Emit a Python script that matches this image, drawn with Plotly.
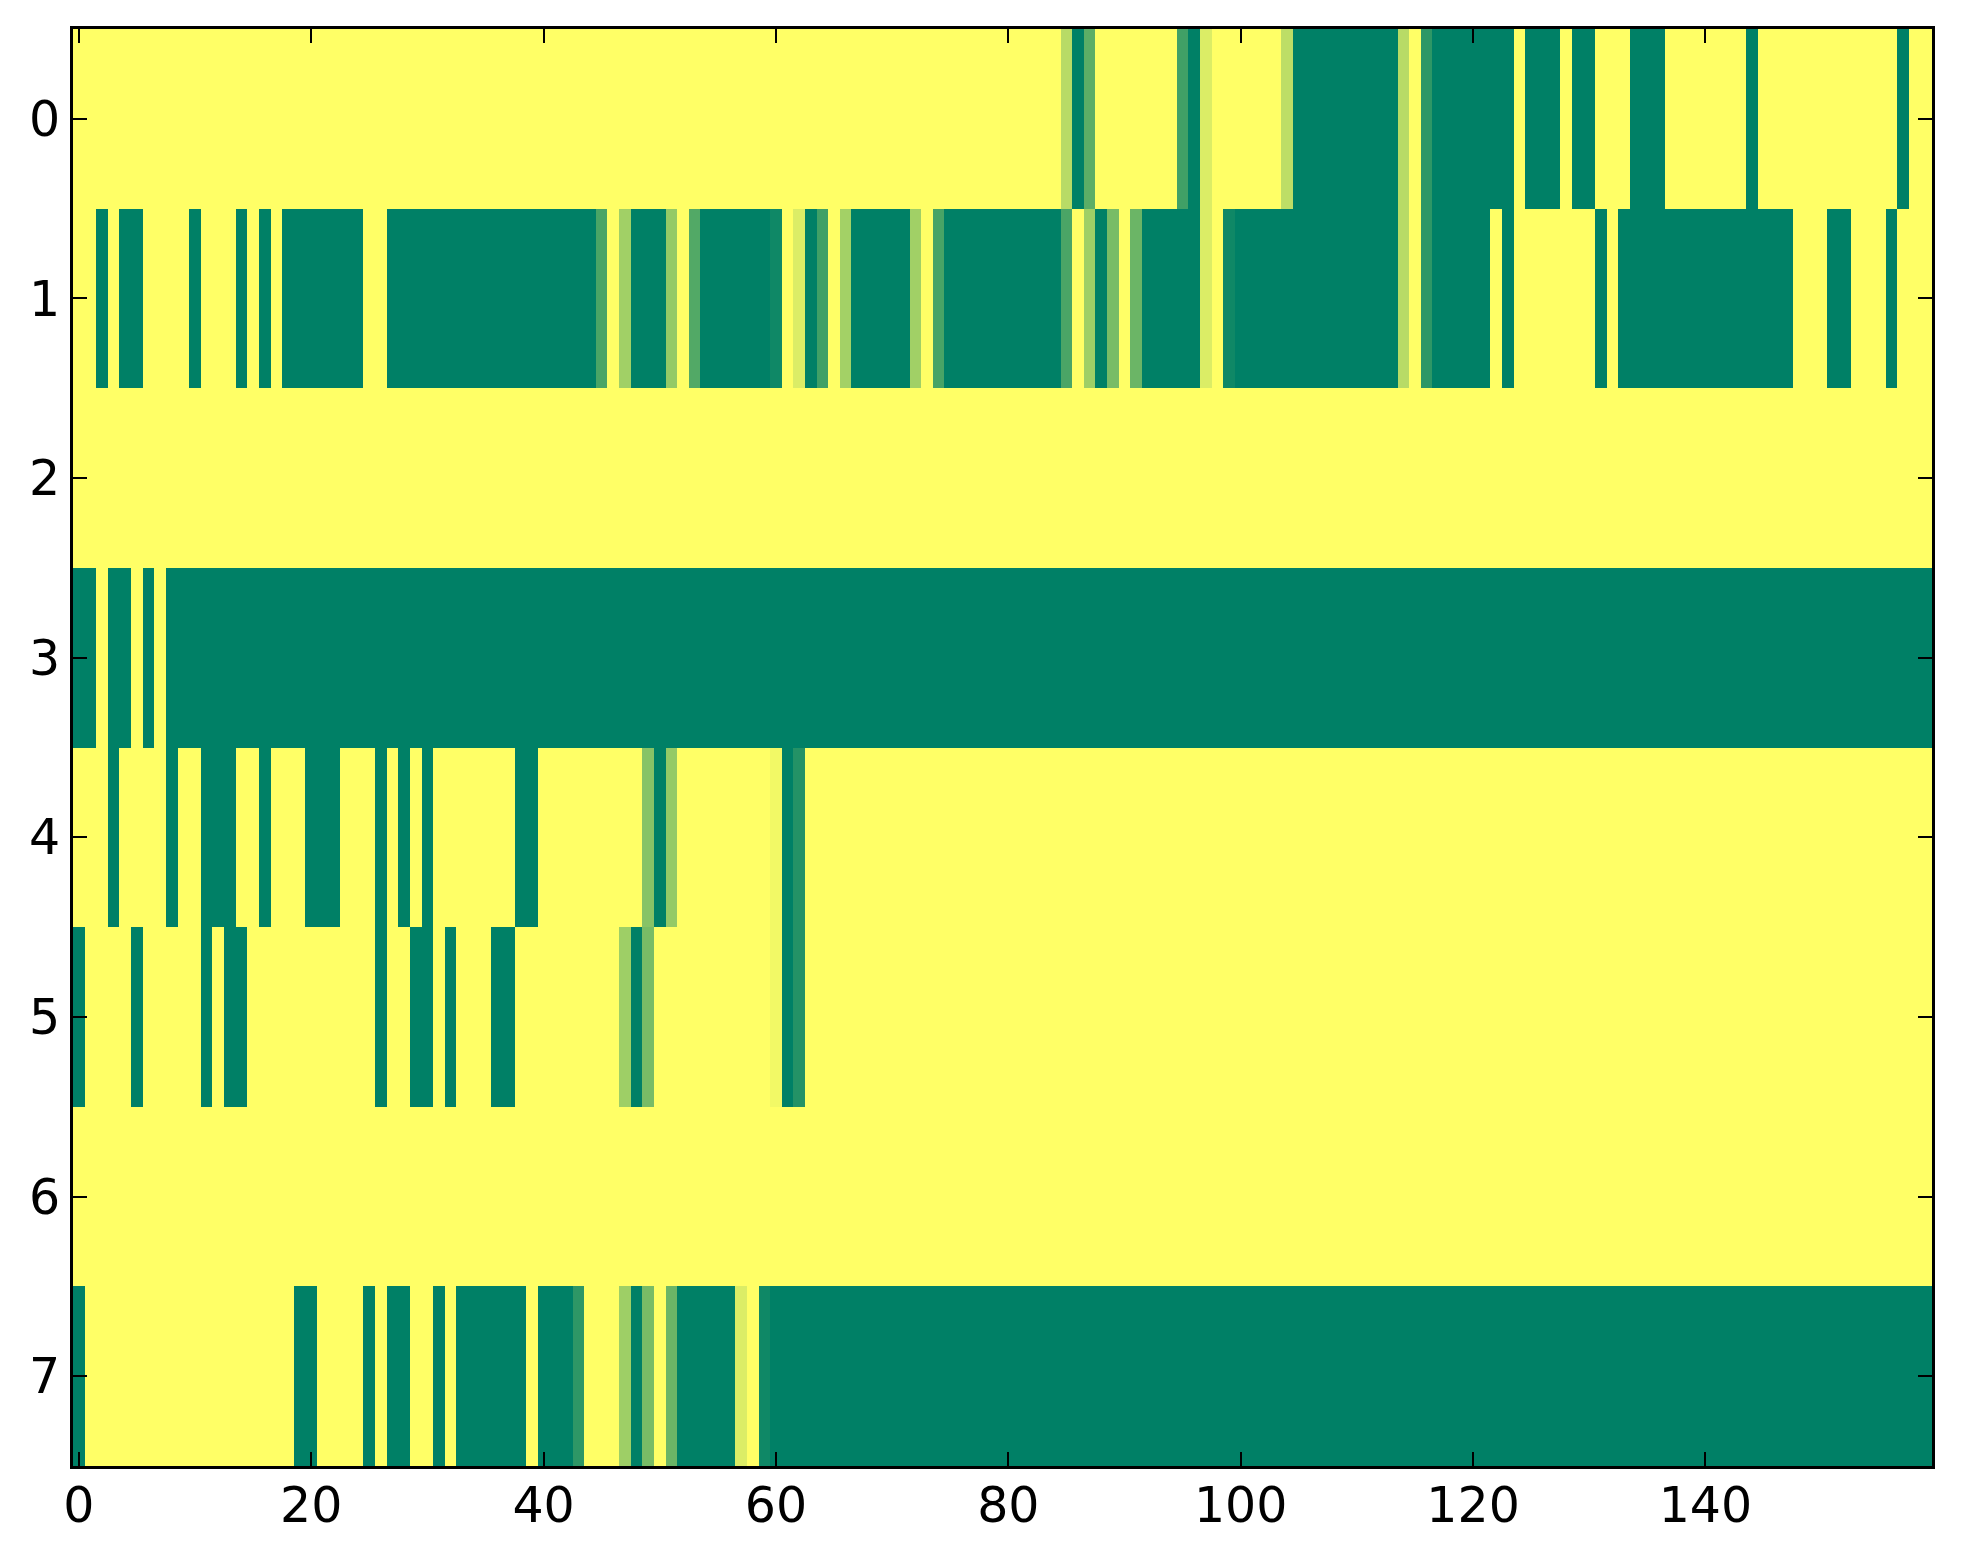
import plotly.graph_objects as go

# Heatmap values, one list per row (0 = yellow, 1 = green in summer_r)
row_0 = [
    0, 0, 0, 0, 0, 0, 0, 0, 0, 0, 0, 0, 0, 0, 0, 0, 0, 0, 0, 0,
    0, 0, 0, 0, 0, 0, 0, 0, 0, 0, 0, 0, 0, 0, 0, 0, 0, 0, 0, 0,
    0, 0, 0, 0, 0, 0, 0, 0, 0, 0, 0, 0, 0, 0, 0, 0, 0, 0, 0, 0,
    0, 0, 0, 0, 0, 0, 0, 0, 0, 0, 0, 0, 0, 0, 0, 0, 0, 0, 0, 0,
    0, 0, 0, 0, 0, .28, 1, .64, 0, 0, 0, 0, 0, 0, 0, .75, 1, .14, 0, 0,
    0, 0, 0, 0, .26, 1, 1, 1, 1, 1, 1, 1, 1, 1, .28, 0, .82, 1, 1, 1,
    1, 1, 1, 1, 0, 1, 1, 1, 0, 1, 1, 0, 0, 0, 1, 1, 1, 0, 0, 0,
    0, 0, 0, 0, 1, 0, 0, 0, 0, 0, 0, 0, 0, 0, 0, 0, 0, 1, 0, 0,
]
row_1 = [
    0, 0, 1, 0, 1, 1, 0, 0, 0, 0, 1, 0, 0, 0, 1, 0, 1, 0, 1, 1,
    1, 1, 1, 1, 1, 0, 0, 1, 1, 1, 1, 1, 1, 1, 1, 1, 1, 1, 1, 1,
    1, 1, 1, 1, 1, .71, 0, .37, 1, 1, 1, .42, 0, .68, 1, 1, 1, 1, 1, 1,
    .94, 0, .14, 1, .75, 0, .36, 1, 1, 1, 1, 1, .37, 0, .72, 1, 1, 1, 1, 1,
    1, 1, 1, 1, 1, .71, 0, .38, 1, .53, 0, .58, 1, 1, 1, 1, 1, .14, 0, .94,
    1, 1, 1, 1, 1, 1, 1, 1, 1, 1, 1, 1, 1, 1, .28, 0, .82, 1, 1, 1,
    1, 1, 0, 1, 0, 0, 0, 0, 0, 0, 0, 1, 0, 1, 1, 1, 1, 1, 1, 1,
    1, 1, 1, 1, 1, 1, 1, 1, 0, 0, 0, 1, 1, 0, 0, 0, 1, 0, 0, 0,
]
row_2 = [
    0, 0, 0, 0, 0, 0, 0, 0, 0, 0, 0, 0, 0, 0, 0, 0, 0, 0, 0, 0,
    0, 0, 0, 0, 0, 0, 0, 0, 0, 0, 0, 0, 0, 0, 0, 0, 0, 0, 0, 0,
    0, 0, 0, 0, 0, 0, 0, 0, 0, 0, 0, 0, 0, 0, 0, 0, 0, 0, 0, 0,
    0, 0, 0, 0, 0, 0, 0, 0, 0, 0, 0, 0, 0, 0, 0, 0, 0, 0, 0, 0,
    0, 0, 0, 0, 0, 0, 0, 0, 0, 0, 0, 0, 0, 0, 0, 0, 0, 0, 0, 0,
    0, 0, 0, 0, 0, 0, 0, 0, 0, 0, 0, 0, 0, 0, 0, 0, 0, 0, 0, 0,
    0, 0, 0, 0, 0, 0, 0, 0, 0, 0, 0, 0, 0, 0, 0, 0, 0, 0, 0, 0,
    0, 0, 0, 0, 0, 0, 0, 0, 0, 0, 0, 0, 0, 0, 0, 0, 0, 0, 0, 0,
]
row_3 = [
    1, 1, 0, 1, 1, 0, 1, 0, 1, 1, 1, 1, 1, 1, 1, 1, 1, 1, 1, 1,
    1, 1, 1, 1, 1, 1, 1, 1, 1, 1, 1, 1, 1, 1, 1, 1, 1, 1, 1, 1,
    1, 1, 1, 1, 1, 1, 1, 1, 1, 1, 1, 1, 1, 1, 1, 1, 1, 1, 1, 1,
    1, 1, 1, 1, 1, 1, 1, 1, 1, 1, 1, 1, 1, 1, 1, 1, 1, 1, 1, 1,
    1, 1, 1, 1, 1, 1, 1, 1, 1, 1, 1, 1, 1, 1, 1, 1, 1, 1, 1, 1,
    1, 1, 1, 1, 1, 1, 1, 1, 1, 1, 1, 1, 1, 1, 1, 1, 1, 1, 1, 1,
    1, 1, 1, 1, 1, 1, 1, 1, 1, 1, 1, 1, 1, 1, 1, 1, 1, 1, 1, 1,
    1, 1, 1, 1, 1, 1, 1, 1, 1, 1, 1, 1, 1, 1, 1, 1, 1, 1, 1, 1,
]
row_4 = [
    0, 0, 0, 1, 0, 0, 0, 0, 1, 0, 0, 1, 1, 1, 0, 0, 1, 0, 0, 0,
    1, 1, 1, 0, 0, 0, 1, 0, 1, 0, 1, 0, 0, 0, 0, 0, 0, 0, 1, 1,
    0, 0, 0, 0, 0, 0, 0, 0, 0, .47, 1, .42, 0, 0, 0, 0, 0, 0, 0, 0,
    .05, 1, .86, 0, 0, 0, 0, 0, 0, 0, 0, 0, 0, 0, 0, 0, 0, 0, 0, 0,
    0, 0, 0, 0, 0, 0, 0, 0, 0, 0, 0, 0, 0, 0, 0, 0, 0, 0, 0, 0,
    0, 0, 0, 0, 0, 0, 0, 0, 0, 0, 0, 0, 0, 0, 0, 0, 0, 0, 0, 0,
    0, 0, 0, 0, 0, 0, 0, 0, 0, 0, 0, 0, 0, 0, 0, 0, 0, 0, 0, 0,
    0, 0, 0, 0, 0, 0, 0, 0, 0, 0, 0, 0, 0, 0, 0, 0, 0, 0, 0, 0,
]
row_5 = [
    1, 0, 0, 0, 0, 1, 0, 0, 0, 0, 0, 1, 0, 1, 1, 0, 0, 0, 0, 0,
    0, 0, 0, 0, 0, 0, 1, 0, 0, 1, 1, 0, 1, 0, 0, 0, 1, 1, 0, 0,
    0, 0, 0, 0, 0, 0, 0, .38, 1, .53, 0, 0, 0, 0, 0, 0, 0, 0, 0, 0,
    .05, 1, .86, 0, 0, 0, 0, 0, 0, 0, 0, 0, 0, 0, 0, 0, 0, 0, 0, 0,
    0, 0, 0, 0, 0, 0, 0, 0, 0, 0, 0, 0, 0, 0, 0, 0, 0, 0, 0, 0,
    0, 0, 0, 0, 0, 0, 0, 0, 0, 0, 0, 0, 0, 0, 0, 0, 0, 0, 0, 0,
    0, 0, 0, 0, 0, 0, 0, 0, 0, 0, 0, 0, 0, 0, 0, 0, 0, 0, 0, 0,
    0, 0, 0, 0, 0, 0, 0, 0, 0, 0, 0, 0, 0, 0, 0, 0, 0, 0, 0, 0,
]
row_6 = [
    0, 0, 0, 0, 0, 0, 0, 0, 0, 0, 0, 0, 0, 0, 0, 0, 0, 0, 0, 0,
    0, 0, 0, 0, 0, 0, 0, 0, 0, 0, 0, 0, 0, 0, 0, 0, 0, 0, 0, 0,
    0, 0, 0, 0, 0, 0, 0, 0, 0, 0, 0, 0, 0, 0, 0, 0, 0, 0, 0, 0,
    0, 0, 0, 0, 0, 0, 0, 0, 0, 0, 0, 0, 0, 0, 0, 0, 0, 0, 0, 0,
    0, 0, 0, 0, 0, 0, 0, 0, 0, 0, 0, 0, 0, 0, 0, 0, 0, 0, 0, 0,
    0, 0, 0, 0, 0, 0, 0, 0, 0, 0, 0, 0, 0, 0, 0, 0, 0, 0, 0, 0,
    0, 0, 0, 0, 0, 0, 0, 0, 0, 0, 0, 0, 0, 0, 0, 0, 0, 0, 0, 0,
    0, 0, 0, 0, 0, 0, 0, 0, 0, 0, 0, 0, 0, 0, 0, 0, 0, 0, 0, 0,
]
row_7 = [
    1, 0, 0, 0, 0, 0, 0, 0, 0, 0, 0, 0, 0, 0, 0, 0, 0, 0, 0, 1,
    1, 0, 0, 0, 0, 1, 0, 1, 1, 0, 0, 1, 0, 1, 1, 1, 1, 1, 1, 0,
    1, 1, 1, .82, 0, 0, 0, .38, 1, .53, 0, .58, 1, 1, 1, 1, 1, .14, 0, .94,
    1, 1, 1, 1, 1, 1, 1, 1, 1, 1, 1, 1, 1, 1, 1, 1, 1, 1, 1, 1,
    1, 1, 1, 1, 1, 1, 1, 1, 1, 1, 1, 1, 1, 1, 1, 1, 1, 1, 1, 1,
    1, 1, 1, 1, 1, 1, 1, 1, 1, 1, 1, 1, 1, 1, 1, 1, 1, 1, 1, 1,
    1, 1, 1, 1, 1, 1, 1, 1, 1, 1, 1, 1, 1, 1, 1, 1, 1, 1, 1, 1,
    1, 1, 1, 1, 1, 1, 1, 1, 1, 1, 1, 1, 1, 1, 1, 1, 1, 1, 1, 1,
]

rows = [row_0, row_1, row_2, row_3, row_4, row_5, row_6, row_7]
x_ticks = [0, 20, 40, 60, 80, 100, 120, 140]
y_ticks = [0, 1, 2, 3, 4, 5, 6, 7]

# matplotlib summer_r: yellow at 0, green at 1
summer_r = [[0, "#ffff66"], [1, "#008066"]]

fig = go.Figure(go.Heatmap(
    z=rows,
    colorscale=summer_r,
    zmin=0, zmax=1,
    showscale=False,
    hoverinfo="skip",
))

axis_style = dict(
    showline=True, linecolor="black", linewidth=3,
    mirror="allticks", ticks="inside", ticklen=14, tickwidth=1.5, tickcolor="black",
    showgrid=False, zeroline=False,
    tickfont=dict(family="DejaVu Sans", size=49, color="black"),
)

# the page body adds an 8px offset, so the figure is a bit smaller than the window
fig.update_layout(
    width=1947, height=1548,
    margin=dict(l=65, r=23, t=21, b=90),
    paper_bgcolor="white", plot_bgcolor="white",
    xaxis=dict(range=[-0.5, 159.5], tickvals=x_ticks, ticklabelstandoff=-6, **axis_style),
    yaxis=dict(range=[7.5, -0.5], tickvals=y_ticks, ticklabelstandoff=0, **axis_style),
)

fig.write_html("out.html")
